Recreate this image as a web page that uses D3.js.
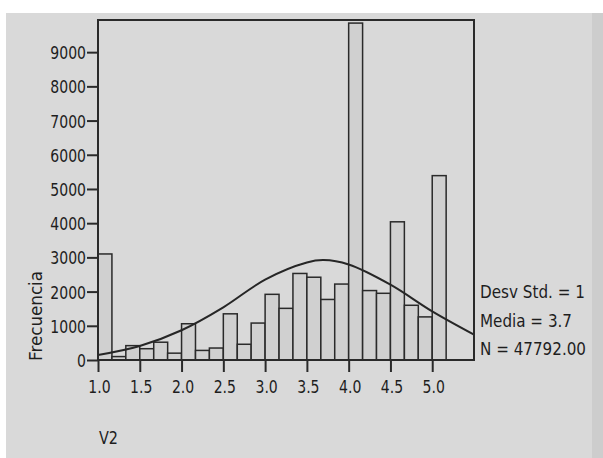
<!DOCTYPE html>
<html>
<head>
<meta charset="utf-8">
<script src="https://cdn.jsdelivr.net/npm/d3@7"></script>
<style>
  body { margin: 0; background: #fff; }
  text { font-family: "DejaVu Sans", sans-serif; fill: #1e1e1e; }
</style>
</head>
<body>
<div id="chart"></div>
<script>
// histogram of V2: lower edge of each bin (bin width 1/6) and its count
const binLow = [1.000, 1.167, 1.333, 1.500, 1.667, 1.833, 2.000, 2.167, 2.333, 2.500,
                2.667, 2.833, 3.000, 3.167, 3.333, 3.500, 3.667, 3.833, 4.000, 4.167,
                4.333, 4.500, 4.667, 4.833, 5.000]
const counts = [3100, 100, 420, 330, 520, 200, 1060, 280, 350, 1350,
                460, 1080, 1920, 1510, 2530, 2420, 1770, 2220, 9850, 2030,
                1950, 4040, 1600, 1260, 5390]
const binWidth = 1 / 6

// normal curve
const curveX = [1.0, 1.5, 2.0, 2.5, 3.0, 3.5, 3.7, 4.0, 4.5, 5.0, 5.5]
const curveY = [146, 410, 870, 1540, 2350, 2850, 2920, 2790, 2200, 1420, 740]

const xTicks = [1.0, 1.5, 2.0, 2.5, 3.0, 3.5, 4.0, 4.5, 5.0]
const yTicks = [0, 1000, 2000, 3000, 4000, 5000, 6000, 7000, 8000, 9000]
const statsLines = ['Desv Std. = 1', 'Media = 3.7', 'N = 47792.00']
const statsWidths = [105, 92, 106]

const W = 603, H = 458
const plot = {left: 98, right: 474, top: 20, bottom: 360}
const squeeze = 'scale(0.78,1)'

const svg = d3.select('#chart')
    .append('svg')
    .attr('width', W)
    .attr('height', H)

// grey panel like the original window
svg.append('rect')
    .attr('x', 6).attr('y', 13)
    .attr('width', W - 6).attr('height', H - 13)
    .attr('fill', '#d9d9d9')
svg.append('rect')
    .attr('x', 592).attr('y', 13)
    .attr('width', W - 592).attr('height', H - 13)
    .attr('fill', '#cdcdcd')

const xScale = d3.scaleLinear()
    .domain([1.0, 5.5])
    .range([plot.left, plot.right])

const yScale = d3.scaleLinear()
    .domain([0, 9940])
    .range([plot.bottom, plot.top])

// bars
svg.selectAll('.bar')
    .data(counts)
    .enter()
    .append('rect')
    .attr('class', 'bar')
    .attr('x', (d, i) => xScale(binLow[i]))
    .attr('width', (d, i) => xScale(binLow[i] + binWidth) - xScale(binLow[i]))
    .attr('y', d => yScale(d))
    .attr('height', d => yScale(0) - yScale(d))
    .attr('fill', '#d0d0d0')
    .attr('stroke', '#2a2a2a')
    .attr('stroke-width', 1.5)

// normal curve
const curvePts = curveX.map((x, i) => ({x: x, y: curveY[i]}))
svg.append('path')
    .datum(curvePts)
    .attr('fill', 'none')
    .attr('stroke', '#262626')
    .attr('stroke-width', 2)
    .attr('d', d3.line()
        .x(d => xScale(d.x))
        .y(d => yScale(d.y))
        .curve(d3.curveCatmullRom.alpha(0.5)))

// frame
svg.append('rect')
    .attr('x', plot.left).attr('y', plot.top)
    .attr('width', plot.right - plot.left)
    .attr('height', plot.bottom - plot.top)
    .attr('fill', 'none')
    .attr('stroke', '#2a2a2a')
    .attr('stroke-width', 2)

// y axis
const yAxis = svg.append('g')
    .attr('transform', `translate(${plot.left},0)`)
    .call(d3.axisLeft(yScale).tickValues(yTicks).tickSize(11).tickFormat(d3.format('d')))
yAxis.select('.domain').remove()
yAxis.selectAll('line').attr('stroke', '#2a2a2a').attr('stroke-width', 2)
yAxis.selectAll('text')
    .attr('x', null)
    .attr('dy', '0.36em')
    .attr('transform', `translate(-12,0) ${squeeze}`)
    .attr('font-size', 18)
    .attr('font-family', null)
    .attr('fill', null)

// x axis
const xAxis = svg.append('g')
    .attr('transform', `translate(0,${plot.bottom})`)
    .call(d3.axisBottom(xScale).tickValues(xTicks).tickSize(12).tickFormat(d3.format('.1f')))
xAxis.select('.domain').remove()
xAxis.selectAll('line').attr('stroke', '#2a2a2a').attr('stroke-width', 2)
xAxis.selectAll('text')
    .attr('y', null)
    .attr('dy', null)
    .attr('transform', `translate(1,33) ${squeeze}`)
    .attr('font-size', 18)
    .attr('font-family', null)
    .attr('fill', null)

// axis titles
svg.append('text')
    .attr('transform', 'translate(42,316) rotate(-90)')
    .attr('text-anchor', 'middle')
    .attr('font-size', 18)
    .attr('textLength', 90)
    .attr('lengthAdjust', 'spacingAndGlyphs')
    .text('Frecuencia')

svg.append('text')
    .attr('x', 99)
    .attr('y', 444)
    .attr('font-size', 18)
    .attr('textLength', 19)
    .attr('lengthAdjust', 'spacingAndGlyphs')
    .text('V2')

// stats box on the right
svg.selectAll('.stat')
    .data(statsLines)
    .enter()
    .append('text')
    .attr('class', 'stat')
    .attr('x', 480)
    .attr('y', (d, i) => 298 + i * 28.5)
    .attr('font-size', 17)
    .attr('textLength', (d, i) => statsWidths[i])
    .attr('lengthAdjust', 'spacingAndGlyphs')
    .text(d => d)
</script>
</body>
</html>
